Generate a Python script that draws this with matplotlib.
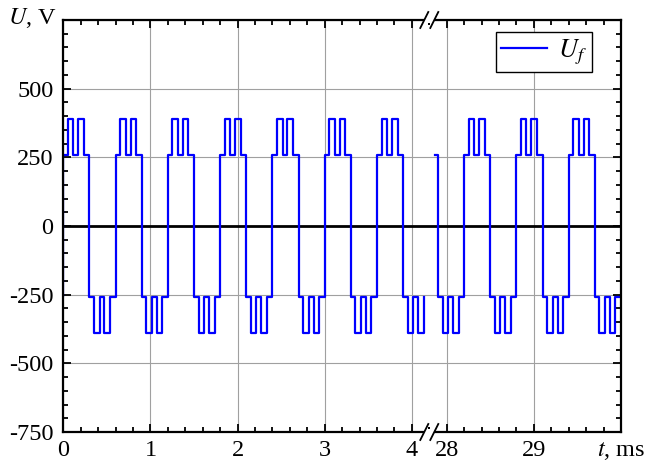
import numpy as np
import matplotlib
matplotlib.use("Agg")
import matplotlib.pyplot as plt
from matplotlib.ticker import FixedLocator, FuncFormatter
from matplotlib.patches import Rectangle

# ---- data ----
period_ms = 0.6
half_fracs = [0.0, 0.175, 0.385, 0.575, 0.785, 1.0]   # switching instants within a half-cycle
half_levels = [260, 390, 260, 390, 260]               # |U| levels within a half-cycle, V
windows = [(-0.01, 4.145), (27.86, 30.0)]              # recorded time windows, ms
gap = (4.2, 27.8)                                      # omitted time span on the axis, ms
x_major = [0, 1, 2, 3, 4, 28, 29]
y_major = [-750, -500, -250, 0, 250, 500, 750]
legend_label = "$U_f$"

plt.rcParams["font.family"] = ["Liberation Serif", "DejaVu Serif"]
plt.rcParams["mathtext.fontset"] = "stix"
plt.rcParams["axes.unicode_minus"] = False


def waveform(t0, t1):
    half = period_ms / 2
    k0 = int(np.floor(t0 / half))
    k1 = int(np.ceil(t1 / half))
    ts, vs = [], []
    for k in range(k0, k1):
        sign = 1 if k % 2 == 0 else -1
        for a, b, lv in zip(half_fracs[:-1], half_fracs[1:], half_levels):
            s = k * half + a * half
            e = k * half + b * half
            s2, e2 = max(s, t0), min(e, t1)
            if e2 <= s2:
                continue
            ts += [s2, e2]
            vs += [sign * lv, sign * lv]
    return ts, vs


T, V = [], []
for i, (a, b) in enumerate(windows):
    ts, vs = waveform(a, b)
    if i > 0:
        T.append(np.nan)
        V.append(np.nan)
    T += ts
    V += vs

shift = gap[1] - gap[0]


def fwd(t):
    t = np.asarray(t, float)
    return np.where(t <= gap[0], t, np.where(t >= gap[1], t - shift, gap[0]))


def inv(x):
    x = np.asarray(x, float)
    return np.where(x <= gap[0], x, x + shift)


W, H = 647, 463
fig = plt.figure(figsize=(W / 100, H / 100), dpi=100)
L, R, TOP, BOT = 63.3, 621, 20, 432
ax = fig.add_axes([L / W, 1 - BOT / H, (R - L) / W, (BOT - TOP) / H])
ax.set_xscale("function", functions=(fwd, inv))
ax.set_xlim(0, 30)
ax.set_ylim(-750, 750)

ax.grid(True, which="major", color="#a0a0a0", lw=0.8, zorder=0)
ax.axhline(0, color="black", lw=2.0, zorder=2.7)
ax.plot(T, V, color="#0000ff", lw=1.6, label=legend_label, zorder=3)

minor_x = [v for v in np.round(np.concatenate([np.arange(0, gap[0] + 1e-9, 0.2),
                                                np.arange(gap[1], 30 + 1e-9, 0.2)]), 3)
           if v not in x_major]
ax.xaxis.set_major_locator(FixedLocator(x_major))
ax.xaxis.set_minor_locator(FixedLocator(minor_x))
ax.xaxis.set_major_formatter(FuncFormatter(lambda v, p: f"{v:g}"))
ax.yaxis.set_major_locator(FixedLocator(y_major))
ax.yaxis.set_minor_locator(FixedLocator(np.arange(-750, 751, 50)))
ax.yaxis.set_major_formatter(FuncFormatter(lambda v, p: "" if v >= 750 else f"{int(v)}"))

ax.tick_params(which="both", direction="in", top=True, right=True, width=1.3, labelsize=17.5)
ax.tick_params(which="major", length=6)
ax.tick_params(which="minor", length=3.5)
ax.tick_params(axis="y", pad=7)
ax.tick_params(axis="x", pad=6)
for s in ax.spines.values():
    s.set_linewidth(1.6)
    s.set_zorder(4)

# axis break marks
bx = fwd(gap[0]) / fwd(30)
aw, ah = R - L, BOT - TOP
for yy in (0, 1):
    ax.add_patch(Rectangle((bx - 5 / aw, yy - 3 / ah), 10 / aw, 6 / ah, transform=ax.transAxes,
                           facecolor="white", edgecolor="none", clip_on=False, zorder=5))
    for off in (-5, 5):
        ax.plot([bx + (off - 4) / aw, bx + (off + 4) / aw], [yy - 8 / ah, yy + 8 / ah],
                transform=ax.transAxes, color="black", lw=1.3, clip_on=False, zorder=6)

leg = ax.legend(loc="upper right", bbox_to_anchor=(1 - 29 / aw, 1 - 12 / ah), fontsize=19,
                fancybox=False, edgecolor="black", framealpha=1, handlelength=1.75,
                borderpad=0.2, handletextpad=0.4, borderaxespad=0)
leg.get_frame().set_linewidth(1.0)

fig.text(8 / W, 1 - 18 / H, "$U$, V", fontsize=17.5, va="center", ha="left")
fig.text(645 / W, 1 - 451 / H, "$t$, ms", fontsize=17.5, va="center", ha="right")

fig.savefig("out.png", dpi=100)
